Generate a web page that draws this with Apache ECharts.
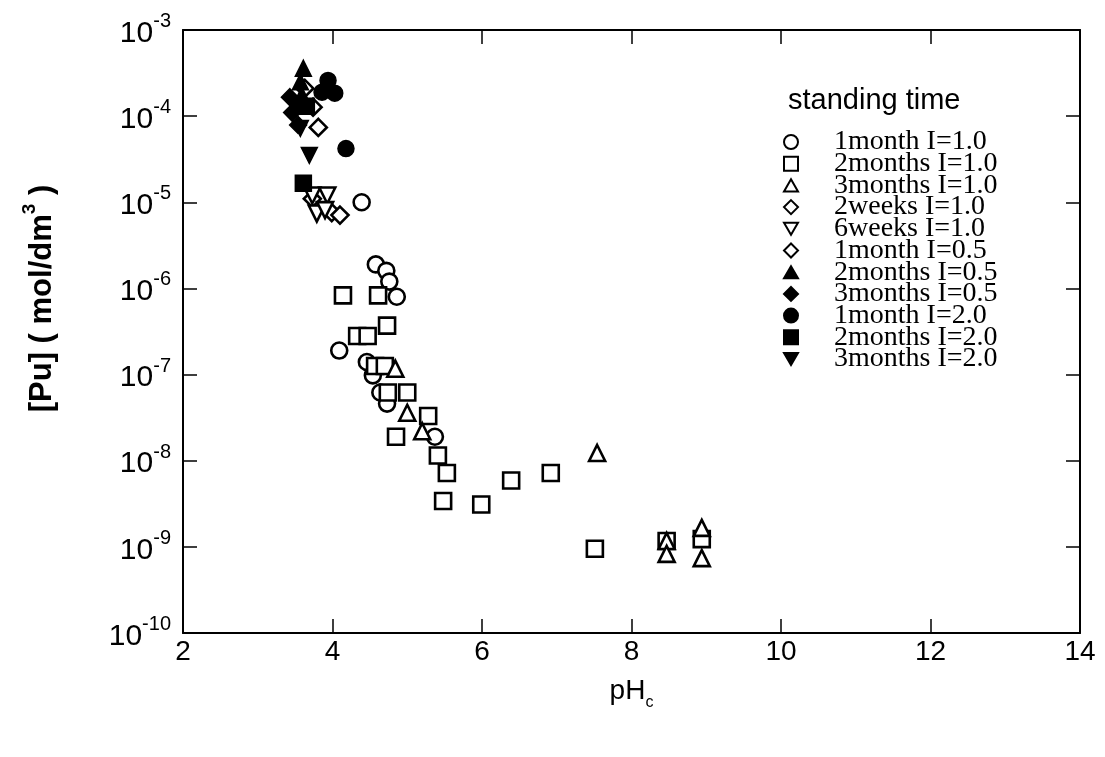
<!DOCTYPE html>
<html>
<head>
<meta charset="utf-8">
<script src="https://cdn.jsdelivr.net/npm/echarts@6/dist/echarts.min.js"></script>
<style>
html,body{margin:0;padding:0;background:#fff;}
#chart{width:1105px;height:757px;}
</style>
</head>
<body>
<div id="chart"></div>
<script>
// ---- data (pH_c, [Pu] mol/dm3) ----
const seriesNames = ["1month I=1.0","2months I=1.0","3months I=1.0","2weeks I=1.0","6weeks I=1.0",
  "1month I=0.5","2months I=0.5","3months I=0.5","1month I=2.0","2months I=2.0","3months I=2.0"];

const m1_I10_x = [4.39, 4.58, 4.72, 4.76, 4.86, 4.09, 4.46, 4.54, 4.64, 4.73, 5.37];
const m1_I10_y = [1.0e-5, 1.9e-6, 1.6e-6, 1.2e-6, 8e-7, 1.9e-7, 1.4e-7, 9.8e-8, 6.2e-8, 4.6e-8, 1.9e-8];

const m2_I10_x = [4.14, 4.61, 4.73, 4.33, 4.47, 4.57, 4.70, 4.74, 5.00, 5.28, 4.85, 5.41, 5.53, 5.48, 5.99, 6.39, 6.92, 7.51, 8.47, 8.94];
const m2_I10_y = [8.3e-7, 8.3e-7, 3.7e-7, 2.8e-7, 2.8e-7, 1.26e-7, 1.26e-7, 6.2e-8, 6.2e-8, 3.3e-8, 1.9e-8, 1.15e-8, 7.2e-9, 3.4e-9, 3.1e-9, 5.9e-9, 7.2e-9, 9.5e-10, 1.17e-9, 1.23e-9];

const m3_I10_x = [4.84, 5.00, 5.20, 7.54, 8.47, 8.47, 8.94, 8.94];
const m3_I10_y = [1.17e-7, 3.6e-8, 2.2e-8, 1.23e-8, 1.17e-9, 8.3e-10, 1.66e-9, 7.4e-10];

const w2_I10_x = [3.73, 3.99, 4.10];
const w2_I10_y = [1.1e-5, 7.6e-6, 7.1e-6];

const w6_I10_x = [3.73, 3.93, 3.79, 3.90];
const w6_I10_y = [1.2e-5, 1.2e-5, 7.4e-6, 8.1e-6];

const m1_I05_x = [3.63, 3.81, 3.74];
const m1_I05_y = [2.1e-4, 7.4e-5, 1.27e-4];

const m2_I05_x = [3.61, 3.57, 3.59];
const m2_I05_y = [3.6e-4, 2.5e-4, 1.75e-4];

const m3_I05_x = [3.43, 3.46, 3.54];
const m3_I05_y = [1.66e-4, 1.1e-4, 7.9e-5];

const m1_I20_x = [3.94, 4.03, 3.86, 4.18];
const m1_I20_y = [2.6e-4, 1.85e-4, 1.9e-4, 4.2e-5];

const m2_I20_x = [3.61, 3.65];
const m2_I20_y = [1.66e-5, 1.3e-4];

const m3_I20_x = [3.69, 3.57, 3.51];
const m3_I20_y = [3.5e-5, 7.2e-5, 1.2e-4];

const xTickValues = [2, 4, 6, 8, 10, 12, 14];
const yExponents = [-10, -9, -8, -7, -6, -5, -4, -3];

// ---- build ----
const INV_TRI = 'path://M0,0 L10,0 L5,8.66 Z';
const TRI = 'path://M5,0 L10,8.66 L0,8.66 Z';
const styles = [
  {symbol:'circle', fill:false},
  {symbol:'rect', fill:false},
  {symbol:TRI, fill:false},
  {symbol:'diamond', fill:false},
  {symbol:INV_TRI, fill:false},
  {symbol:'diamond', fill:false},
  {symbol:TRI, fill:true},
  {symbol:'diamond', fill:true},
  {symbol:'circle', fill:true},
  {symbol:'rect', fill:true},
  {symbol:INV_TRI, fill:true}
];
const xs = [m1_I10_x, m2_I10_x, m3_I10_x, w2_I10_x, w6_I10_x, m1_I05_x, m2_I05_x, m3_I05_x, m1_I20_x, m2_I20_x, m3_I20_x];
const ys = [m1_I10_y, m2_I10_y, m3_I10_y, w2_I10_y, w6_I10_y, m1_I05_y, m2_I05_y, m3_I05_y, m1_I20_y, m2_I20_y, m3_I20_y];

const series = seriesNames.map((name, i) => {
  const st = styles[i];
  return {
    name: name,
    type: 'scatter',
    xAxisIndex: 0, yAxisIndex: 0,
    symbol: st.symbol,
    symbolSize: (st.symbol === 'diamond') ? 17 : 16,
    data: xs[i].map((x, k) => [x, ys[i][k]]),
    itemStyle: st.fill ? {color:'#000', borderColor:'#000', borderWidth:1.5, opacity:1}
                       : {color:'#fff', borderColor:'#000', borderWidth:2.6, opacity:1},
    emphasis: {disabled: true},
    z: st.fill ? 3 : 2
  };
});

const supFmt = v => {
  const e = Math.round(Math.log10(v));
  return '{b|10}{s|' + e + '}';
};
const supRich = {
  b: {fontFamily:'Liberation Sans', fontSize:30, color:'#000', lineHeight:37, verticalAlign:'bottom'},
  s: {fontFamily:'Liberation Sans', fontSize:20, color:'#000', lineHeight:20, verticalAlign:'top'}
};

const chart = echarts.init(document.getElementById('chart'), null, {renderer:'canvas'});
chart.setOption({
  animation: false,
  backgroundColor: '#fff',
  title: {
    text: 'standing time',
    left: 783, top: 81,
    textStyle: {fontFamily:'Liberation Sans', fontSize:29, fontWeight:'normal', color:'#000'}
  },
  legend: {
    data: seriesNames,
    orient: 'vertical',
    left: 778, top: 123,
    itemWidth: 14, itemHeight: 14,
    itemGap: -6.3,
    selectedMode: false,
    textStyle: {fontFamily:'Liberation Serif', fontSize:28, color:'#000', padding:[0,0,0,31]}
  },
  grid: {left:183, right:25, top:30, bottom:124},
  xAxis: [{
    type:'value', min:2, max:14, interval:2, position:'bottom',
    axisLine:{show:true, onZero:false, lineStyle:{color:'#000', width:2}},
    axisTick:{show:true, inside:true, length:14, lineStyle:{color:'#000', width:1.5}},
    axisLabel:{fontFamily:'Liberation Sans', fontSize:28, color:'#000', margin:5},
    splitLine:{show:false},
    name:'{a|pH}{c|c}', nameLocation:'middle', nameGap:44,
    nameTextStyle:{rich:{
      a:{fontFamily:'Liberation Sans', fontSize:28, color:'#000', lineHeight:34, verticalAlign:'top'},
      c:{fontFamily:'Liberation Sans', fontSize:16, color:'#000', lineHeight:16, verticalAlign:'bottom'}
    }}
  },{
    type:'value', min:2, max:14, interval:2, position:'top',
    axisLine:{show:true, onZero:false, lineStyle:{color:'#000', width:2}},
    axisTick:{show:true, inside:true, length:14, lineStyle:{color:'#000', width:1.5}},
    axisLabel:{show:false}, splitLine:{show:false}
  }],
  yAxis: [{
    type:'log', logBase:10, min:1e-10, max:1e-3, splitNumber:7, position:'left',
    axisLine:{show:true, onZero:false, lineStyle:{color:'#000', width:2}},
    axisTick:{show:true, inside:true, length:14, lineStyle:{color:'#000', width:1.5}},
    minorTick:{show:false},
    axisLabel:{formatter:supFmt, rich:supRich, margin:12},
    splitLine:{show:false},
    name:'{a|[Pu] ( mol/dm}{s|3}{a| )}', nameLocation:'middle', nameGap:125, nameRotate:90,
    nameTextStyle:{padding:[0,0,0,66], rich:{
      a:{fontFamily:'Liberation Sans', fontSize:31, fontWeight:'bold', color:'#000', lineHeight:38, verticalAlign:'bottom'},
      s:{fontFamily:'Liberation Sans', fontSize:19, fontWeight:'bold', color:'#000', lineHeight:19, verticalAlign:'top'}
    }}
  },{
    type:'log', logBase:10, min:1e-10, max:1e-3, splitNumber:7, position:'right',
    axisLine:{show:true, onZero:false, lineStyle:{color:'#000', width:2}},
    axisTick:{show:true, inside:true, length:14, lineStyle:{color:'#000', width:1.5}},
    axisLabel:{show:false}, splitLine:{show:false}
  }],
  series: series
});
</script>
</body>
</html>
